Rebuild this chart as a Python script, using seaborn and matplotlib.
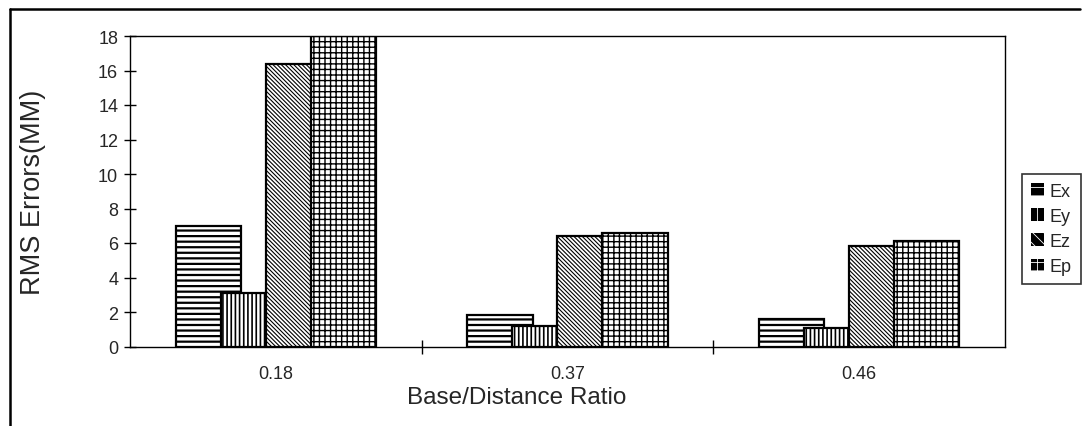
import matplotlib
matplotlib.use("Agg")
import matplotlib.pyplot as plt
from matplotlib.lines import Line2D
import seaborn as sns
import pandas as pd

# RMS errors (mm) per base/distance ratio
ratios = ["0.18", "0.37", "0.46"]
components = ["Ex", "Ey", "Ez", "Ep"]
ex_values = [7.0, 1.8, 1.6]
ey_values = [3.1, 1.2, 1.1]
ez_values = [16.4, 6.4, 5.8]
ep_values = [18.0, 6.6, 6.1]
y_ticks = [0, 2, 4, 6, 8, 10, 12, 14, 16, 18]

series = {"Ex": ex_values, "Ey": ey_values, "Ez": ez_values, "Ep": ep_values}
df = pd.DataFrame(
    [(r, c, series[c][i]) for c in components for i, r in enumerate(ratios)],
    columns=["ratio", "component", "rms"],
)

sns.set_theme(style="white")
plt.rcParams["font.family"] = ["Liberation Sans", "DejaVu Sans"]
plt.rcParams["hatch.linewidth"] = 1.2

fig = plt.figure(figsize=(10.85, 4.27), dpi=100)
ax = fig.add_axes([130 / 1085, 1 - 347.5 / 427, 875 / 1085, 310.5 / 427])

step = 0.1543      # spacing between neighbouring bars in a group
bar_w = 0.224      # drawn bar width (bars overlap their neighbours)

sns.barplot(
    data=df, x="ratio", y="rms", hue="component", order=ratios,
    hue_order=components, width=step * 4, dodge=True, gap=0,
    palette=["white"] * 4, edgecolor="black", linewidth=1.6,
    errorbar=None, ax=ax, legend=False, saturation=1,
)

hatches = ["---", "||||", "\\" * 8, "+++"]
hatch_lw = [1.6, 1.2, 0.8, 1.0]
for cont, h, hlw in zip(ax.containers, hatches, hatch_lw):
    for bar in cont:
        cx = bar.get_x() + bar.get_width() / 2
        bar.set_width(bar_w)
        bar.set_x(cx - bar_w / 2)
        bar.set_facecolor("white")
        bar.set_edgecolor("black")
        bar.set_hatch(h)
        if hasattr(bar, "set_hatch_linewidth"):
            bar.set_hatch_linewidth(hlw)

ax.set_xlim(-0.5, 2.5)
ax.set_ylim(0, 18)
ax.set_yticks(y_ticks)
ax.set_yticklabels([str(v) for v in y_ticks], fontsize=13)
ax.set_xticks(range(len(ratios)))
ax.set_xticklabels(ratios, fontsize=13)
ax.set_xticks([0.5, 1.5], minor=True)
ax.tick_params(axis="x", which="major", length=0, pad=13)
ax.tick_params(axis="x", which="minor", length=10, width=1, direction="inout",
               bottom=True, color="black")
ax.tick_params(axis="y", which="major", length=9, width=1, direction="inout",
               left=True, color="black", pad=4)

for sp in ax.spines.values():
    sp.set_visible(True)
    sp.set_color("black")
    sp.set_linewidth(1.0)

ax.set_xlabel("Base/Distance Ratio", fontsize=17.5)
ax.xaxis.set_label_coords(0.442, -0.126)
ax.set_ylabel("RMS Errors(MM)", fontsize=19.5)
ax.yaxis.set_label_coords(-0.096, 0.5)

# legend keys: dark squares with a light hatch
handles = [
    plt.Rectangle((0, 0), 1, 1, facecolor="black", edgecolor="white",
                  hatch=h, linewidth=0)
    for h in ["--", "||", "\\\\\\", "++"]
]
leg = fig.legend(
    handles, components, loc="center left",
    bbox_to_anchor=(1022 / 1085, 1 - 230 / 427), bbox_transform=fig.transFigure,
    fontsize=13, frameon=True, fancybox=False, handlelength=0.7,
    handleheight=0.7, handletextpad=0.35, labelspacing=0.45, borderpad=0.5,
    borderaxespad=0,
)
for lh in leg.legend_handles:
    lh.set_facecolor("black")
    lh.set_edgecolor("white")
    lh.set_linewidth(0)
    if hasattr(lh, "set_hatch_linewidth"):
        lh.set_hatch_linewidth(0.6)
leg.get_frame().set_edgecolor("black")
leg.get_frame().set_linewidth(1.2)

# outer frame lines (left and top edges)
fig.add_artist(Line2D([10 / 1085, 10 / 1085], [0, 1 - 10 / 427],
                      transform=fig.transFigure, color="black", linewidth=1.8))
fig.add_artist(Line2D([10 / 1085, 1080 / 1085], [1 - 10 / 427, 1 - 10 / 427],
                      transform=fig.transFigure, color="black", linewidth=1.8))

fig.savefig("out.png", dpi=100, facecolor="white")
